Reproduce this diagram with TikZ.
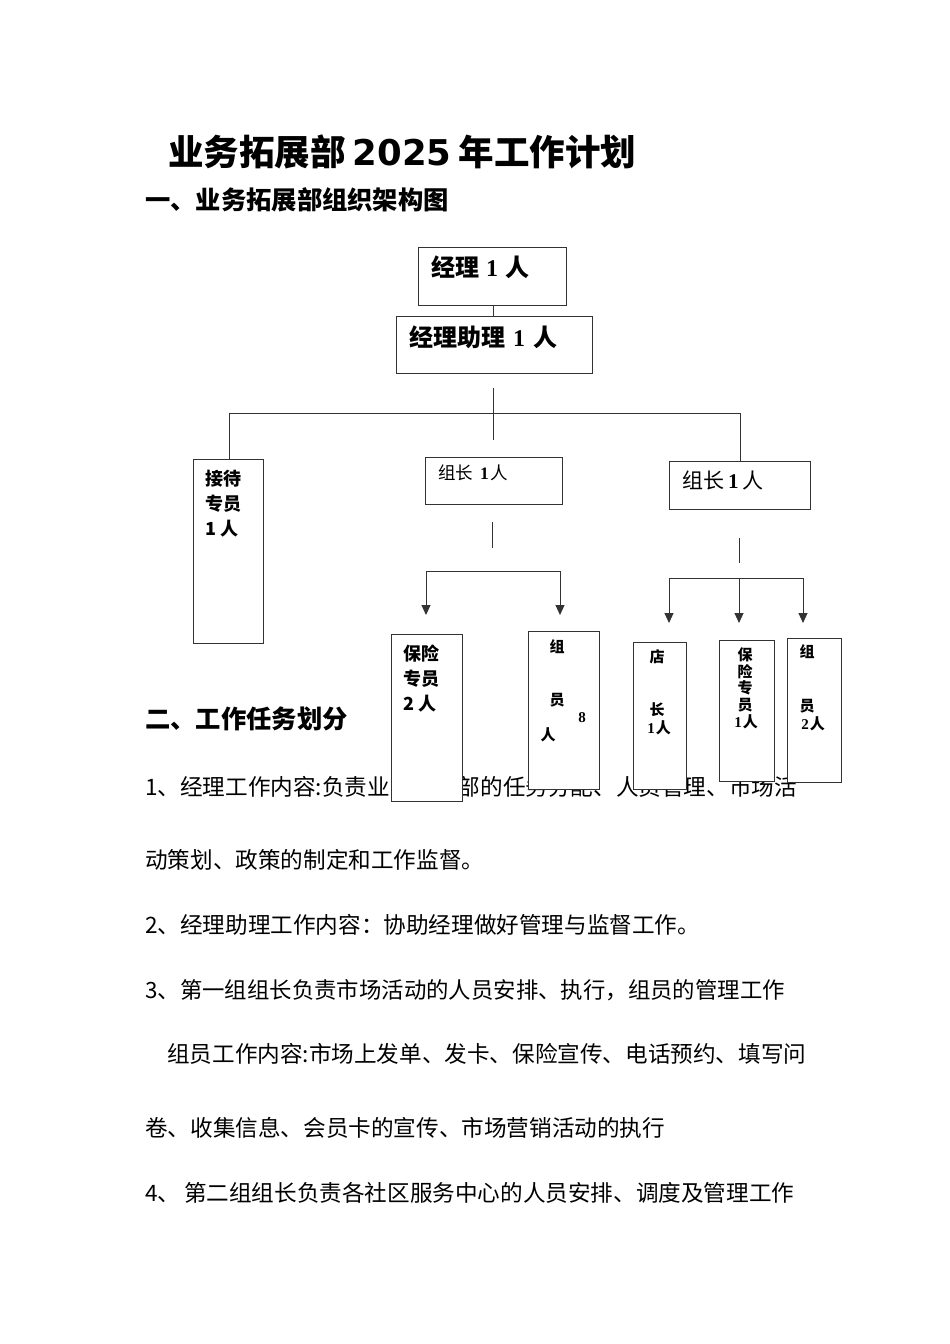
\documentclass[tikz,border=0pt]{standalone}
\usepackage{fontspec}
\setmainfont{Noto Sans CJK SC}
\newfontfamily\serifnum{Liberation Serif}
\newfontfamily\dejavu{DejaVu Sans}
\usetikzlibrary{arrows.meta}
\tikzset{
  box/.style={draw=black!80, fill=white, line width=1pt, inner sep=0pt, anchor=north west},
  conn/.style={draw=black!80, line width=1pt},
  arr/.style={conn, -{Triangle[length=10pt,width=9pt]}},
  body/.style={anchor=west, inner sep=0pt, font=\fontsize{22.6}{26}\selectfont},
  head/.style={anchor=west, inner sep=0pt, font=\fontsize{25.3}{28}\selectfont\bfseries},
  lbl/.style={anchor=west, inner sep=0pt},
  vlbl/.style={anchor=center, inner sep=0pt, font=\fontsize{15}{17}\selectfont\bfseries},
}
\begin{document}
\begin{tikzpicture}[x=1pt,y=-1pt]
\useasboundingbox (0,0) rectangle (950,1344);
\fill[white] (0,0) rectangle (950,1344);

% title and headings
\node[anchor=west, inner sep=0pt, font=\fontsize{35.5}{38}\selectfont\bfseries] (title) at (168,152) {业务拓展部\hspace{7pt}{\dejavu\bfseries 2025}\hspace{7pt}年工作计划};
\node[head] (h1) at (145,200) {一、业务拓展部组织架构图};
\node[head] (h2) at (145,719) {二、工作任务划分};

% body text
\node[body] (t1) at (145,787) {1、经理工作内容:负责业务拓展部的任务分配、人员管理、市场活};
\node[body] (t2) at (145,860) {动策划、政策的制定和工作监督。};
\node[body] (t3) at (145,925) {2、经理助理工作内容：协助经理做好管理与监督工作。};
\node[body, font=\fontsize{22.4}{26}\selectfont] (t4) at (145,990) {3、第一组组长负责市场活动的人员安排、执行，组员的管理工作};
\node[body] (t5) at (167,1054) {组员工作内容:市场上发单、发卡、保险宣传、电话预约、填写问};
\node[body] (t6) at (145,1128) {卷、收集信息、会员卡的宣传、市场营销活动的执行};
\node[body] (t7) at (145,1193) {4、\,第二组组长负责各社区服务中心的人员安排、调度及管理工作};

% boxes
\node[box, minimum width=148pt, minimum height=58pt] (mgr) at (418,247) {};
\node[box, minimum width=196pt, minimum height=57pt] (asst) at (396,316) {};
\node[box, minimum width=70pt, minimum height=184pt] (recv) at (193,459) {};
\node[box, minimum width=137pt, minimum height=47pt] (lead1) at (425,457) {};
\node[box, minimum width=141pt, minimum height=48pt] (lead2) at (669,461) {};
\node[box, minimum width=71pt, minimum height=167pt] (ins2) at (391,634) {};
\node[box, minimum width=71pt, minimum height=158pt] (mem8) at (528,631) {};
\node[box, minimum width=53pt, minimum height=147pt] (shop) at (633,642) {};
\node[box, minimum width=55pt, minimum height=141pt] (ins1) at (719,640) {};
\node[box, minimum width=54pt, minimum height=144pt] (mem2) at (787,638) {};

% labels
\node[lbl, font=\fontsize{24}{24}\selectfont\bfseries] (mgrL) at (431,267) {经理\hspace{7pt}{\serifnum\bfseries 1}\hspace{7pt}人};
\node[lbl, font=\fontsize{24}{24}\selectfont\bfseries] (asstL) at (409,337) {经理助理\hspace{8pt}{\serifnum\bfseries 1}\hspace{8pt}人};
\node[lbl, anchor=north west, align=left, font=\fontsize{18}{25}\selectfont\bfseries] (recvL) at (205,470) {接待\\专员\\1 人};
\node[lbl, font=\fontsize{17.5}{19}\selectfont] (lead1L) at (438,473) {组长\hspace{7pt}{\serifnum\bfseries 1}\hspace{2pt}人};
\node[lbl, font=\fontsize{21}{22}\selectfont] (lead2L) at (682,480) {组长\hspace{4pt}{\serifnum\bfseries 1}\hspace{4pt}人};
\node[lbl, anchor=north west, align=left, font=\fontsize{18}{25}\selectfont\bfseries] (ins2L) at (403,645) {保险\\专员\\2 人};
\node[vlbl] (m8a) at (557,647) {组};
\node[vlbl] (m8b) at (557,700) {员};
\node[vlbl, font=\fontsize{15}{17}\selectfont\bfseries\serifnum] (m8c) at (582,718) {8};
\node[vlbl] (m8d) at (548,735) {人};
\node[vlbl] (sha) at (657,657) {店};
\node[vlbl] (shb) at (657,710) {长};
\node[vlbl] (shc) at (659,728) {{\serifnum 1}\hspace{1pt}人};
\node[vlbl, align=center, font=\fontsize{15}{16.5}\selectfont\bfseries] (i1a) at (745,680) {保\\险\\专\\员};
\node[vlbl] (i1b) at (746,722) {{\serifnum 1}\hspace{1pt}人};
\node[vlbl] (m2a) at (807,652) {组};
\node[vlbl] (m2b) at (807,706) {员};
\node[vlbl] (m2c) at (813,724) {{\serifnum 2}\hspace{1pt}人};

% connectors
\coordinate (dot) at (493,388);
\coordinate (j1b) at (493,440);
\coordinate (l1) at (229,413);
\coordinate (r1) at (740,413);
\draw[conn] (mgr.south -| 493,0) -- (asst.north -| 493,0);
\draw[conn] (dot) -- (j1b);
\draw[conn] (l1) -- (r1);
\draw[conn] (l1) -- (l1 |- recv.north);
\draw[conn] (r1) -- (r1 |- lead2.north);

\coordinate (a1) at (492,522);
\coordinate (a2) at (492,548);
\draw[conn] (a1) -- (a2);
\coordinate (aL) at (426,571);
\coordinate (aR) at (560,571);
\draw[conn] (aL) -- (aR);
\draw[arr] (aL) -- (426,615);
\draw[arr] (aR) -- (560,615);

\coordinate (b1) at (739,538);
\coordinate (b2) at (739,563);
\draw[conn] (b1) -- (b2);
\coordinate (bL) at (669,578);
\coordinate (bM) at (739,578);
\coordinate (bR) at (803,578);
\draw[conn] (bL) -- (bR);
\draw[arr] (bL) -- (669,623);
\draw[arr] (bM) -- (739,623);
\draw[arr] (bR) -- (803,623);
\end{tikzpicture}
\end{document}
